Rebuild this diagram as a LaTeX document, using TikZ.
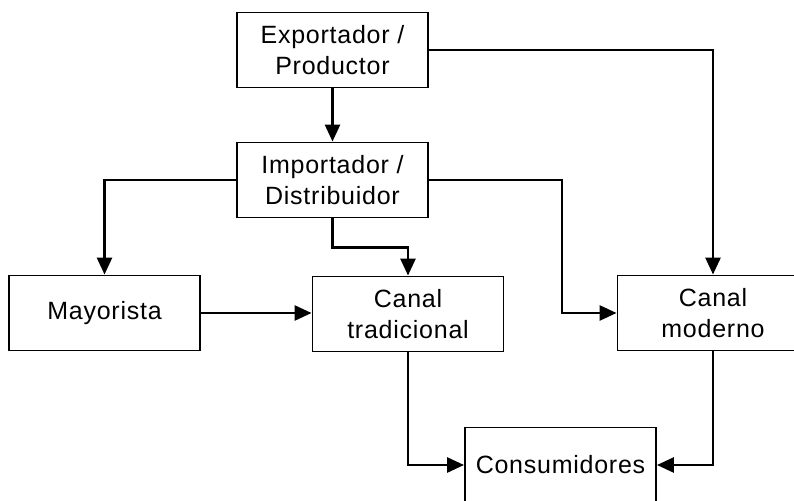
\documentclass[tikz,border=0pt]{standalone}
\usepackage{fontspec}
\setmainfont{Liberation Sans}[LetterSpace=3]
\usetikzlibrary{arrows.meta}

\begin{document}
\begin{tikzpicture}[x=1pt,y=-1pt,>={Triangle[length=17pt,width=15pt]},
  box/.style={draw,line width=1.9pt,minimum width=191pt,minimum height=75pt,inner sep=0pt,align=center,font=\fontsize{25}{31}\selectfont},
  link/.style={->,line width=2.7pt}]
\useasboundingbox (0,0) rectangle (794,500);
\clip (0,0) rectangle (794,500);
% ---------- boxes ----------
\node[box] (exp) at (332.5,50) {Exportador /\\Productor};
\node[box] (imp) at (332.5,180) {Importador /\\Distribuidor};
\node[box] (may) at (104.5,313) {Mayorista};
\node[box] (trad) at (408,314) {Canal\\tradicional};
\node[box] (mod) at (713,313) {Canal\\moderno};
\node[box] (cons) at (560.5,465) {Consumidores};
% ---------- flows ----------
\draw[link] (exp.south)--(imp.north);
\draw[link] (exp.east)-|(mod.north);
\draw[link] (imp.west)-|(may.north);
\draw[link] (imp.south)--++(0,29)-|(trad.north);
\draw[link] (imp.east)--++(133,0)|-(mod.west);
\draw[link] (may.east)--(may.east-|trad.west);
\draw[link] (trad.south)|-(cons.west);
\draw[link] (mod.south)|-(cons.east);
\end{tikzpicture}
\end{document}
